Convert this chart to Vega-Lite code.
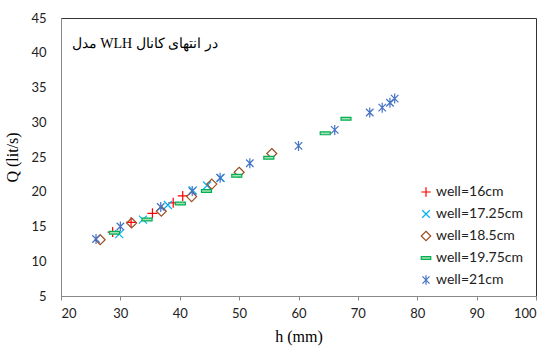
{
  "$schema": "https://vega.github.io/schema/vega-lite/v6.json",
  "width": 475,
  "height": 278,
  "autosize": {"type": "none"},
  "padding": {"left": 61, "top": 18, "right": 13, "bottom": 53},
  "background": "white",
  "config": {
    "view": {"stroke": "#333333", "strokeWidth": 1},
    "axis": {"grid": false, "domainColor": "#888888", "tickColor": "#888888", "labelFont": "Lato", "labelFontSize": 13, "labelColor": "#222222", "labelOverlap": false, "titleFont": "Liberation Serif", "titleFontSize": 16, "titleFontWeight": "normal", "titleColor": "#000000"}
  },
  "datasets": {
    "pts": [
      {"h": 28.7, "Q": 14.2, "well": "well=16cm"},
      {"h": 31.8, "Q": 15.6, "well": "well=16cm"},
      {"h": 35.4, "Q": 16.9, "well": "well=16cm"},
      {"h": 38.9, "Q": 18.4, "well": "well=16cm"},
      {"h": 40.5, "Q": 19.4, "well": "well=16cm"},
      {"h": 29.8, "Q": 13.9, "well": "well=17.25cm"},
      {"h": 33.8, "Q": 16.0, "well": "well=17.25cm"},
      {"h": 38.0, "Q": 18.1, "well": "well=17.25cm"},
      {"h": 42.2, "Q": 20.2, "well": "well=17.25cm"},
      {"h": 44.6, "Q": 20.9, "well": "well=17.25cm"},
      {"h": 46.9, "Q": 22.0, "well": "well=17.25cm"},
      {"h": 26.6, "Q": 13.1, "well": "well=18.5cm"},
      {"h": 31.9, "Q": 15.5, "well": "well=18.5cm"},
      {"h": 36.9, "Q": 17.2, "well": "well=18.5cm"},
      {"h": 42.0, "Q": 19.3, "well": "well=18.5cm"},
      {"h": 45.4, "Q": 21.1, "well": "well=18.5cm"},
      {"h": 50.0, "Q": 22.8, "well": "well=18.5cm"},
      {"h": 55.5, "Q": 25.5, "well": "well=18.5cm"},
      {"h": 29.0, "Q": 14.1, "well": "well=19.75cm"},
      {"h": 34.5, "Q": 16.0, "well": "well=19.75cm"},
      {"h": 40.1, "Q": 18.3, "well": "well=19.75cm"},
      {"h": 44.5, "Q": 20.1, "well": "well=19.75cm"},
      {"h": 49.6, "Q": 22.3, "well": "well=19.75cm"},
      {"h": 55.0, "Q": 24.9, "well": "well=19.75cm"},
      {"h": 64.5, "Q": 28.4, "well": "well=19.75cm"},
      {"h": 68.0, "Q": 30.5, "well": "well=19.75cm"},
      {"h": 25.9, "Q": 13.2, "well": "well=21cm"},
      {"h": 30.0, "Q": 15.0, "well": "well=21cm"},
      {"h": 36.8, "Q": 17.8, "well": "well=21cm"},
      {"h": 42.1, "Q": 20.1, "well": "well=21cm"},
      {"h": 46.8, "Q": 22.0, "well": "well=21cm"},
      {"h": 51.8, "Q": 24.1, "well": "well=21cm"},
      {"h": 60.0, "Q": 26.6, "well": "well=21cm"},
      {"h": 66.1, "Q": 28.9, "well": "well=21cm"},
      {"h": 72.0, "Q": 31.4, "well": "well=21cm"},
      {"h": 74.1, "Q": 32.1, "well": "well=21cm"},
      {"h": 75.4, "Q": 32.8, "well": "well=21cm"},
      {"h": 76.2, "Q": 33.4, "well": "well=21cm"}
    ],
    "label": [
      {"h": 21.8, "Q": 41.2, "text": "مدل WLH در انتهای کانال"}
    ]
  },
  "layer": [
    {
      "data": {"name": "pts"},
      "mark": {"type": "point", "filled": false, "strokeWidth": 1.2, "opacity": 1},
      "encoding": {
        "x": {"field": "h", "type": "quantitative", "title": "h (mm)",
          "scale": {"domain": [20, 100], "nice": false, "zero": false},
          "axis": {"values": [20, 30, 40, 50, 60, 70, 80, 90, 100], "tickSize": 4, "labelPadding": 7, "titlePadding": 8, "labelOverlap": false}},
        "y": {"field": "Q", "type": "quantitative", "title": "Q (lit/s)",
          "scale": {"domain": [5, 45], "nice": false, "zero": false},
          "axis": {"values": [5, 10, 15, 20, 25, 30, 35, 40, 45], "tickCount": 9, "ticks": false, "labelPadding": 15, "titlePadding": 10, "labelOverlap": false, "labelFlush": false}},
        "color": {"field": "well", "type": "nominal", "title": null,
          "scale": {"domain": ["well=16cm", "well=17.25cm", "well=18.5cm", "well=19.75cm", "well=21cm"],
            "range": ["#ff0000", "#00b0f0", "#9c4f22", "#00b050", "#4472c4"]}},
        "fill": {"field": "well", "type": "nominal", "title": null,
          "scale": {"domain": ["well=16cm", "well=17.25cm", "well=18.5cm", "well=19.75cm", "well=21cm"],
            "range": ["transparent", "transparent", "transparent", "#a6e0b8", "transparent"]}},
        "shape": {"field": "well", "type": "nominal", "title": null,
          "scale": {"domain": ["well=16cm", "well=17.25cm", "well=18.5cm", "well=19.75cm", "well=21cm"],
            "range": ["M-1,0L1,0M0,-1L0,1", "M-0.8,-0.8L0.8,0.8M-0.8,0.8L0.8,-0.8", "M0,-1L1,0L0,1L-1,0Z", "M-1,-0.28L1,-0.28L1,0.28L-1,0.28Z", "M-0.75,-0.75L0.75,0.75M-0.75,0.75L0.75,-0.75M0,-1L0,1"]},
          "legend": {"orient": "none", "legendX": 358, "legendY": 167, "labelFont": "Lato", "labelFontSize": 14, "labelColor": "#222222", "symbolSize": 90, "rowPadding": 7, "labelOffset": 3, "symbolStrokeWidth": 1.2}},
        "size": {"value": 100}
      }
    },
    {
      "data": {"name": "label"},
      "mark": {"type": "text", "align": "left", "baseline": "middle", "font": "Liberation Serif", "fontSize": 14, "color": "#000000"},
      "encoding": {
        "x": {"field": "h", "type": "quantitative", "title": "h (mm)",
          "axis": {"values": [20, 30, 40, 50, 60, 70, 80, 90, 100], "tickSize": 4, "labelPadding": 7, "titlePadding": 8, "labelOverlap": false}},
        "y": {"field": "Q", "type": "quantitative", "title": "Q (lit/s)",
          "axis": {"values": [5, 10, 15, 20, 25, 30, 35, 40, 45], "tickCount": 9, "ticks": false, "labelPadding": 15, "titlePadding": 10, "labelOverlap": false, "labelFlush": false}},
        "text": {"field": "text"}
      }
    }
  ]
}
